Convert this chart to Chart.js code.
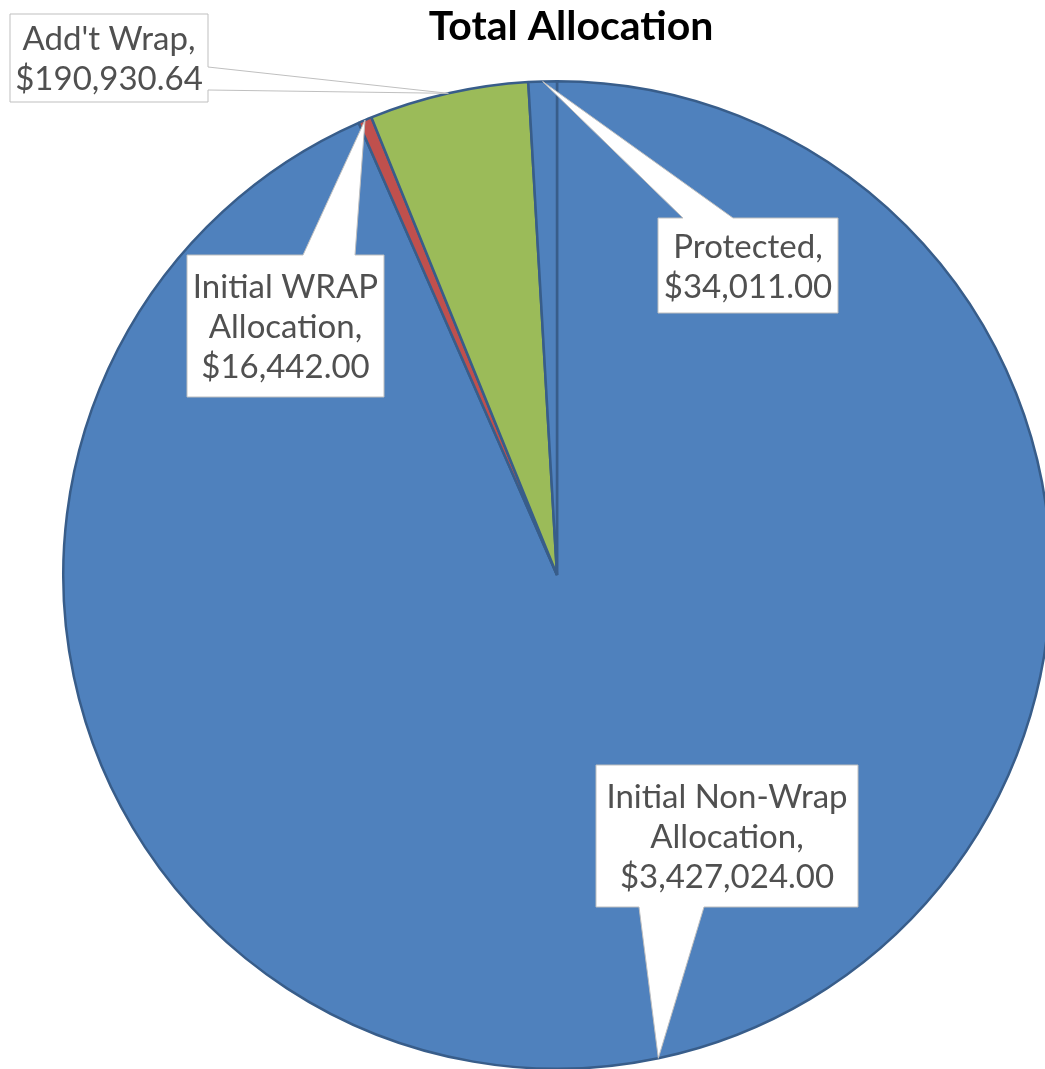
<!DOCTYPE html>
<html>
<head>
<meta charset="utf-8">
<title>Total Allocation</title>
<script src="https://cdn.jsdelivr.net/npm/chart.js@4.4.1/dist/chart.umd.min.js"></script>
<style>
  html, body { margin: 0; padding: 0; background: #fff; overflow: hidden; }
  #wrap { position: relative; width: 1060px; height: 1070px; }
</style>
</head>
<body>
<div id="wrap"><canvas id="allocationChart" width="1060" height="1070"></canvas></div>
<script>
// ===== Данные =====
const chartTitle = 'Total Allocation';
const categories = [
    ['Initial Non-Wrap', 'Allocation'],
    ['Initial WRAP', 'Allocation'],
    ["Add't Wrap"],
    ['Protected']
];
const amounts = [3427024.00, 16442.00, 190930.64, 34011.00];
const sliceColors = ['#4F81BD', '#C0504D', '#9BBB59', '#4F81BD'];

// Выноски: прямоугольник и отрезок стороны, откуда выходит клин
const callouts = [
    { x: 596, y: 765, w: 262, h: 142, side: 'bottom', from: 639, to: 704 },
    { x: 187, y: 255, w: 197, h: 142, side: 'top', from: 303, to: 355 },
    { x: 10, y: 14, w: 198, h: 88, side: 'right', from: 67, to: 90 },
    { x: 658, y: 218, w: 180, h: 95, side: 'top', from: 683, to: 733 }
];

function money(v) {
    return '$' + v.toLocaleString('en-US', { minimumFractionDigits: 2, maximumFractionDigits: 2 });
}

// Заголовок и выноски поверх круга
const calloutPlugin = {
    id: 'callouts',
    afterDraw(chart) {
        const ctx = chart.ctx;
        const meta = chart.getDatasetMeta(0);

        ctx.save();
        ctx.fillStyle = '#000';
        ctx.font = 'bold 41px Lato';
        ctx.textAlign = 'center';
        ctx.textBaseline = 'alphabetic';
        ctx.fillText(chartTitle, 571, 40);
        ctx.restore();

        callouts.forEach((c, i) => {
            const arc = meta.data[i];
            const mid = (arc.startAngle + arc.endAngle) / 2;
            const tx = arc.x + Math.cos(mid) * arc.outerRadius;
            const ty = arc.y + Math.sin(mid) * arc.outerRadius;

            ctx.save();
            ctx.beginPath();
            if (c.side === 'top') {
                ctx.moveTo(c.x, c.y);
                ctx.lineTo(c.from, c.y);
                ctx.lineTo(tx, ty);
                ctx.lineTo(c.to, c.y);
                ctx.lineTo(c.x + c.w, c.y);
                ctx.lineTo(c.x + c.w, c.y + c.h);
                ctx.lineTo(c.x, c.y + c.h);
            } else if (c.side === 'bottom') {
                ctx.moveTo(c.x, c.y);
                ctx.lineTo(c.x + c.w, c.y);
                ctx.lineTo(c.x + c.w, c.y + c.h);
                ctx.lineTo(c.to, c.y + c.h);
                ctx.lineTo(tx, ty);
                ctx.lineTo(c.from, c.y + c.h);
                ctx.lineTo(c.x, c.y + c.h);
            } else {
                ctx.moveTo(c.x, c.y);
                ctx.lineTo(c.x + c.w, c.y);
                ctx.lineTo(c.x + c.w, c.from);
                ctx.lineTo(tx, ty);
                ctx.lineTo(c.x + c.w, c.to);
                ctx.lineTo(c.x + c.w, c.y + c.h);
                ctx.lineTo(c.x, c.y + c.h);
            }
            ctx.closePath();
            ctx.fillStyle = '#fff';
            ctx.fill();
            ctx.strokeStyle = '#BFBFBF';
            ctx.lineWidth = 1;
            ctx.stroke();

            // текст: название, запятая, сумма
            const names = categories[i].slice();
            names[names.length - 1] += ',';
            const lines = names.concat([money(amounts[i])]);
            const pitch = 40;
            const cx = c.x + c.w / 2;
            const cy = c.y + c.h / 2;
            ctx.fillStyle = '#505050';
            ctx.font = '33px Lato';
            ctx.textAlign = 'center';
            ctx.textBaseline = 'alphabetic';
            lines.forEach((line, k) => {
                const m = cy + (k - (lines.length - 1) / 2) * pitch;
                ctx.fillText(line, cx, m + 12);
            });
            ctx.restore();
        });
    }
};

document.addEventListener('DOMContentLoaded', function() {
    const ctx = document.getElementById('allocationChart').getContext('2d');
    new Chart(ctx, {
        type: 'pie',
        data: {
            labels: categories,
            datasets: [{
                data: amounts,
                backgroundColor: sliceColors,
                borderColor: '#385D8A',
                borderWidth: 2.5
            }]
        },
        options: {
            responsive: false,
            animation: false,
            events: [],
            layout: {
                padding: { left: 62, right: 8, top: 80, bottom: 0 }
            },
            plugins: {
                legend: { display: false },
                tooltip: { enabled: false }
            }
        },
        plugins: [calloutPlugin]
    });
});
</script>
</body>
</html>
